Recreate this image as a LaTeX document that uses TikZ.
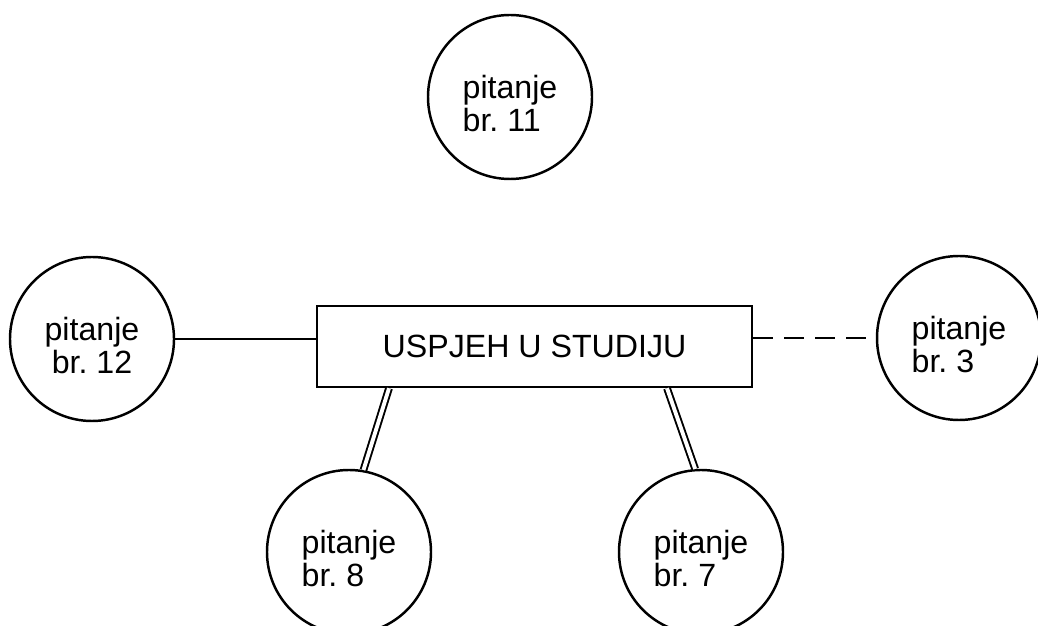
\documentclass[tikz,border=0pt]{standalone}
\usepackage{fontspec}
\setmainfont{Liberation Sans}
\frenchspacing
\usepackage{tikz}
\usetikzlibrary{positioning}
\newcommand{\podigni}{\rule{0pt}{0.72cm}} % pushes the circle text a bit lower
\tikzset{
    pitanje/.style={circle, draw, minimum size=3.28cm, inner sep=0pt, align=left,
        font=\fontsize{18.3}{18.5}\selectfont}, % the question circles
    cilj/.style={draw, minimum width=8.7cm, minimum height=1.62cm,
        font=\fontsize{18.3}{18.5}\selectfont}, % the box in the middle
    veza/.style={double, double distance=2.2pt, line width=1.1pt}, % double link
    crtkano/.style={dash pattern=on 0.4cm off 0.22cm}, % dashed link
}
\begin{document}
\begin{tikzpicture}[line width=1.4pt]
                            \useasboundingbox (0,0) rectangle (20.76,12.5);
                            \node[cilj] (box) at (10.69,5.57) {USPJEH U STUDIJU};
                            \node[pitanje, above of=box, node distance=4.99cm, xshift=-0.49cm] (q11) {\podigni pitanje\\br. 11};
                            \node[pitanje, left of=box, node distance=8.85cm, yshift=0.15cm, align=center] (q12) {\podigni pitanje\\br. 12};
                            \node[pitanje, right of=box, node distance=8.49cm, yshift=0.17cm] (q3) {\podigni pitanje\\br. 3};
                            \node[pitanje, below of=box, node distance=4.11cm, xshift=-3.71cm] (q8) {\podigni pitanje\\br. 8};
                            \node[pitanje, below of=box, node distance=4.11cm, xshift=3.33cm] (q7) {\podigni pitanje\\br. 7};
                            \draw (q12) -- (q12 -| box.west);
                            \draw[crtkano] (q3 -| box.east) -- (q3);
                            \draw[veza] ([xshift=-2.91cm]box.south) -- (q8.80);
                            \draw[veza] ([xshift=2.65cm]box.south) -- (q7.94);
                        \end{tikzpicture}
\end{document}
